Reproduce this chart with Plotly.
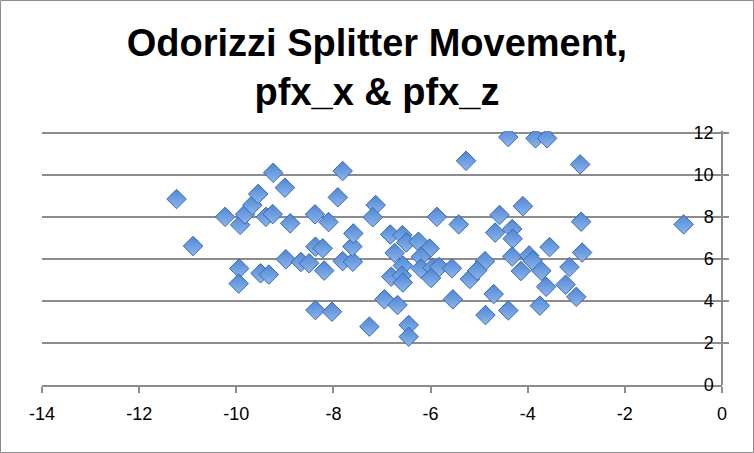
import plotly.graph_objects as go

# pfx_x (horizontal movement) values
pfx_x = [
    -11.23, -10.89, -10.23, -9.92, -9.82, -9.67, -9.55, -9.39, -9.25, -9.24,
    -9.00, -8.89, -8.38, -8.10, -7.81, -7.91, -9.94, -9.95, -9.50, -9.33,
    -8.98, -8.67, -8.50, -8.37, -8.22, -8.19, -7.81, -7.60, -7.61, -7.59,
    -8.37, -8.03, -7.13, -7.19, -6.83, -6.58, -6.50, -6.25, -6.02, -6.74,
    -6.20, -6.57, -6.20, -5.96, -5.82, -5.56, -5.99, -6.81, -6.59, -6.57,
    -6.95, -6.68, -7.26, -6.45, -6.45, -5.87, -5.42, -5.27, -5.19, -5.54,
    -4.40, -4.58, -4.10, -4.67, -4.32, -4.31, -4.88, -5.04, -4.32, -4.14,
    -4.70, -4.87, -4.40, -3.84, -3.60, -2.92, -2.90, -0.79, -3.55, -2.88,
    -3.97, -3.90, -3.72, -3.14, -3.62, -3.22, -3.00, -3.75,
]
# pfx_z (vertical movement) values
pfx_z = [
    8.86, 6.62, 8.01, 7.63, 8.13, 8.57, 9.10, 8.01, 8.14, 10.11,
    9.40, 7.70, 8.13, 7.76, 10.19, 8.94, 5.55, 4.83, 5.32, 5.26,
    5.99, 5.86, 5.80, 6.59, 6.51, 5.45, 5.90, 5.87, 6.60, 7.22,
    3.57, 3.49, 8.57, 7.99, 7.17, 7.14, 6.79, 6.83, 6.50, 6.29,
    6.11, 5.69, 5.55, 5.59, 5.62, 5.56, 5.10, 5.16, 5.21, 4.88,
    4.08, 3.81, 2.78, 2.86, 2.30, 8.01, 7.65, 10.68, 5.05, 4.08,
    11.81, 8.10, 8.52, 7.26, 7.43, 6.97, 5.90, 5.45, 6.12, 5.43,
    4.33, 3.33, 3.55, 11.75, 11.75, 10.51, 7.78, 7.65, 6.57, 6.31,
    6.17, 5.92, 5.44, 5.62, 4.68, 4.78, 4.20, 3.78,
]

title_text = "Odorizzi Splitter Movement,<br>pfx_x & pfx_z"
x_ticks = [-14, -12, -10, -8, -6, -4, -2, 0]
y_ticks = [0, 2, 4, 6, 8, 10, 12]

W, H = 754, 453
ML, MR, MT, MB = 42, 32, 131, 68
PW, PH = W - ML - MR, H - MT - MB

fig = go.Figure()
fig.add_trace(go.Scatter(
    x=pfx_x, y=pfx_z, mode="markers",
    marker=dict(
        symbol="diamond", size=15, color="#4F86D3",
        gradient=dict(type="vertical", color="#8DB6EE"),
        line=dict(color="#3A69AE", width=1),
    ),
    showlegend=False,
))

font = "Liberation Sans, Arial, sans-serif"
fig.update_layout(
    width=W, height=H,
    margin=dict(l=ML, r=MR, t=MT, b=MB, autoexpand=False),
    paper_bgcolor="white", plot_bgcolor="white",
    title=dict(text="<b>" + title_text + "</b>", x=0.5, xanchor="center",
               yref="container", y=1 - 56 / H, yanchor="top",
               font=dict(family=font, size=38, color="black")),
    font=dict(family=font, size=18, color="black"),
    xaxis=dict(
        range=[-14, 0], tickvals=x_ticks, ticktext=[str(v) for v in x_ticks],
        showgrid=False, zeroline=False, automargin=False,
        showline=True, linecolor="#8C8C8C", linewidth=1.5,
        ticks="outside", ticklen=6, tickcolor="#8C8C8C", tickwidth=1.5,
        ticklabelstandoff=6,
        tickfont=dict(family=font, size=18, color="black"),
    ),
    yaxis=dict(
        range=[0, 12.1], tickvals=y_ticks, ticktext=[str(v) for v in y_ticks],
        side="left", anchor="free", position=1, automargin=False,
        showgrid=True, gridcolor="#8C8C8C", gridwidth=1.5, zeroline=False,
        showline=True, linecolor="#8C8C8C", linewidth=1.5,
        ticks="inside", ticklen=6, tickcolor="#8C8C8C", tickwidth=1.5,
        ticklabelstandoff=4,
        tickfont=dict(family=font, size=18, color="black"),
    ),
)

# chart-area border around the whole figure
fig.add_shape(type="rect", xref="paper", yref="paper",
              x0=(0.5 - ML) / PW, x1=(W - 0.5 - ML) / PW,
              y0=(0.5 - MB) / PH, y1=(H - 0.5 - MB) / PH,
              line=dict(color="#8C8C8C", width=1), layer="below")

fig.write_html("out.html", config={"displayModeBar": False},
               post_script="document.body.style.margin='0';document.body.style.overflow='hidden';")
